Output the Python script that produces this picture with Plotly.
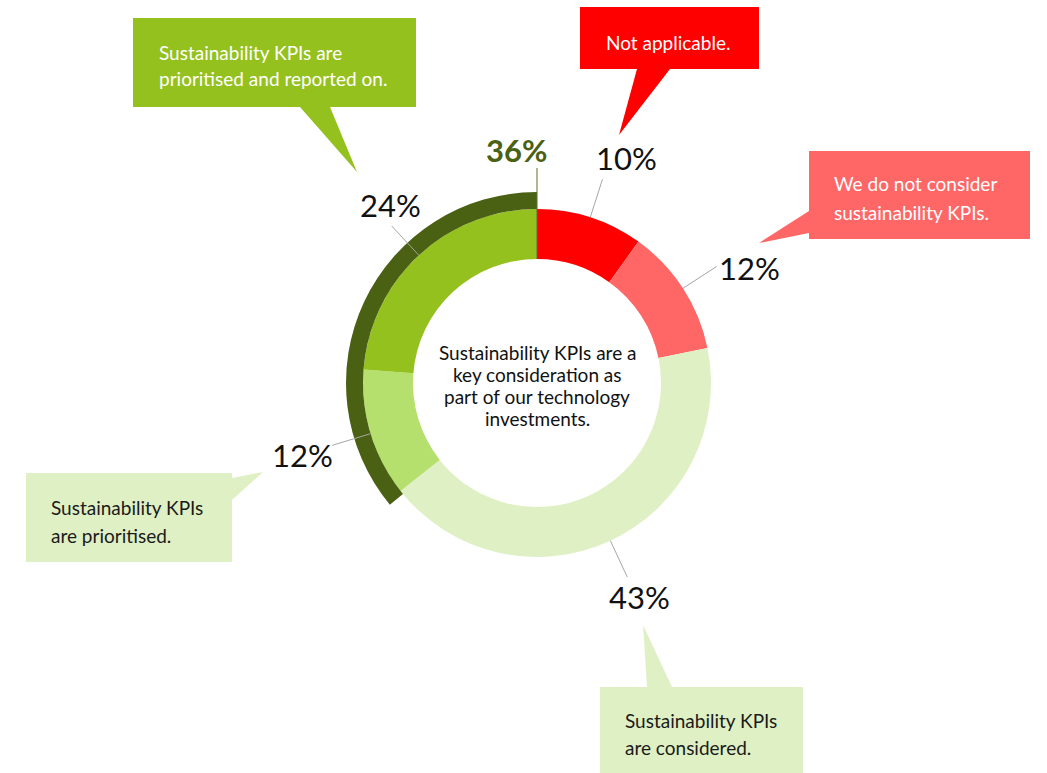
import math
import plotly.graph_objects as go

# ---- data -------------------------------------------------------------
segments = [
    "Not applicable.",
    "We do not consider sustainability KPIs.",
    "Sustainability KPIs are considered.",
    "Sustainability KPIs are prioritised.",
    "Sustainability KPIs are prioritised and reported on.",
]
shares = [10, 12, 43, 12, 24]
pct_labels = ["10%", "12%", "43%", "12%", "24%"]
combined_share = 36            # prioritised + prioritised and reported on
combined_label = "36%"
center_lines = ["Sustainability KPIs are a", "key consideration as",
                "part of our technology", "investments."]

# ---- styling ----------------------------------------------------------
W, H = 1047, 773
CX, CY = 537, 383
R_OUT, R_IN, R_RING = 174, 124, 191
FONT = "Lato"
colors = ["#FF0000", "#FF6666", "#E0F0C5", "#B5E06E", "#95C11F"]
DARK_GREEN = "#4A6012"
LEADER = "#A6A6A6"

# label centres (pixels) for each slice percentage
label_xy = [(626, 158), (749, 268), (639, 597), (302, 455), (390, 205)]

# callout boxes: rectangle, tail triangle, text lines
callouts = [
    dict(lines=["Sustainability KPIs are", "prioritised and reported on."],
         fill="#95C11F", color="white", box=(133, 18, 416, 107),
         tail=[(300, 107), (330, 107), (357, 172)],
         x=157, ys=[52, 78], anchor="left"),
    dict(lines=["Not applicable."],
         fill="#FF0000", color="white", box=(580, 7, 759, 69),
         tail=[(637, 69), (670, 69), (619, 135)],
         x=668, ys=[42], anchor="center"),
    dict(lines=["We do not consider", "sustainability KPIs."],
         fill="#FF6666", color="white", box=(809, 151, 1030, 239),
         tail=[(809, 211), (809, 233), (759, 243)],
         x=832, ys=[183, 212], anchor="left"),
    dict(lines=["Sustainability KPIs", "are prioritised."],
         fill="#E0F0C5", color="#1A1A1A", box=(26, 473, 232, 562),
         tail=[(232, 478), (232, 500), (263, 472)],
         x=49, ys=[507, 535], anchor="left"),
    dict(lines=["Sustainability KPIs", "are considered."],
         fill="#E0F0C5", color="#1A1A1A", box=(600, 687, 803, 773),
         tail=[(643, 625), (647, 687), (672, 687)],
         x=623, ys=[720, 747], anchor="left"),
]


def px(x):
    return x / W


def py(y):
    return 1 - y / H


def domain(r):
    return dict(x=[px(CX - r), px(CX + r)], y=[py(CY + r), py(CY - r)])


fig = go.Figure()

# main donut, clockwise from 12 o'clock
fig.add_trace(go.Pie(
    values=shares, labels=segments, sort=False, direction="clockwise",
    rotation=0, hole=R_IN / R_OUT, domain=domain(R_OUT),
    marker=dict(colors=colors, line=dict(width=0)),
    textinfo="none", hoverinfo="skip", showlegend=False,
))

# outer ring: the combined share ends at 12 o'clock, sweeping back
# over the two "prioritised" slices
fig.add_trace(go.Pie(
    values=[100 - combined_share, combined_share],
    labels=["rest", "combined"], sort=False, direction="clockwise",
    rotation=0, hole=R_OUT / R_RING, domain=domain(R_RING),
    marker=dict(colors=["rgba(0,0,0,0)", DARK_GREEN], line=dict(width=0)),
    textinfo="none", hoverinfo="skip", showlegend=False,
))

shapes = []
annotations = []

# leader lines from the middle of each slice
total = sum(shares)
cum = 0
for v, lab, (lx, ly) in zip(shares, pct_labels, label_xy):
    mid = (cum + v / 2) / total * 2 * math.pi
    cum += v
    sx, sy = CX + R_OUT * math.sin(mid), CY - R_OUT * math.cos(mid)
    ex, ey = CX + 214 * math.sin(mid), CY - 214 * math.cos(mid)
    shapes.append(dict(type="line", xref="paper", yref="paper",
                       x0=px(sx), y0=py(sy), x1=px(ex), y1=py(ey),
                       line=dict(color=LEADER, width=1), layer="above"))
    annotations.append(dict(x=px(lx), y=py(ly), xref="paper", yref="paper",
                            text=lab, showarrow=False,
                            font=dict(family=FONT, size=31, color="#111111"),
                            xanchor="center", yanchor="middle"))

# combined share label with its vertical tick at the ring start
shapes.append(dict(type="line", xref="paper", yref="paper",
                   x0=px(CX), y0=py(168), x1=px(CX), y1=py(CY - R_IN),
                   line=dict(color="#5E6E2E", width=1), layer="above"))
annotations.append(dict(x=px(516), y=py(150), xref="paper", yref="paper",
                        text="<b>" + combined_label + "</b>", showarrow=False,
                        font=dict(family=FONT, size=31, color=DARK_GREEN),
                        xanchor="center", yanchor="middle"))

# centre text
for i, line in enumerate(center_lines):
    annotations.append(dict(x=px(CX), y=py(352 + i * 22), xref="paper",
                            yref="paper", text=line, showarrow=False,
                            font=dict(family=FONT, size=19, color="#111111"),
                            xanchor="center", yanchor="middle"))

# callout boxes
for c in callouts:
    x0, y0, x1, y1 = c["box"]
    shapes.append(dict(type="rect", xref="paper", yref="paper",
                       x0=px(x0), y0=py(y1), x1=px(x1), y1=py(y0),
                       fillcolor=c["fill"], line=dict(width=0), layer="above"))
    path = "M " + " L ".join(f"{px(a)},{py(b)}" for a, b in c["tail"]) + " Z"
    shapes.append(dict(type="path", xref="paper", yref="paper", path=path,
                       fillcolor=c["fill"], line=dict(width=0), layer="above"))
    for line, yy in zip(c["lines"], c["ys"]):
        annotations.append(dict(x=px(c["x"]), y=py(yy), xref="paper",
                                yref="paper", text=line, showarrow=False,
                                font=dict(family=FONT, size=19, color=c["color"]),
                                xanchor=c["anchor"], yanchor="middle"))

fig.update_layout(
    width=W, height=H, margin=dict(l=0, r=0, t=0, b=0),
    paper_bgcolor="white", plot_bgcolor="white",
    shapes=shapes, annotations=annotations, showlegend=False,
)

fig.write_html("out.html", config={"displayModeBar": False})
